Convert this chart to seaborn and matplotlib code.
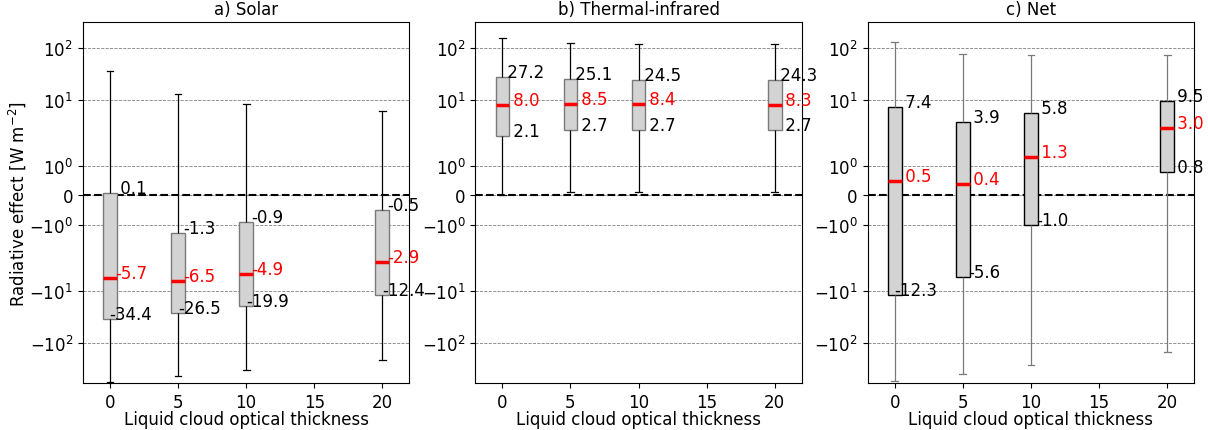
import numpy as np
import pandas as pd
import matplotlib
matplotlib.use("Agg")
import matplotlib.pyplot as plt
import matplotlib.ticker as mticker
import seaborn as sns

# ---- data ----
tau = [0, 5, 10, 20]

solar_min = [-550, -430, -321, -207]
solar_q1 = [-34.4, -26.5, -19.9, -12.4]
solar_med = [-5.7, -6.5, -4.9, -2.9]
solar_q3 = [0.1, -1.3, -0.9, -0.5]
solar_max = [36.1, 13.2, 8.5, 6.2]

tir_min = [0.02, 0.13, 0.13, 0.13]
tir_q1 = [2.1, 2.7, 2.7, 2.7]
tir_med = [8.0, 8.5, 8.4, 8.3]
tir_q3 = [27.2, 25.1, 24.5, 24.3]
tir_max = [153, 123, 117.6, 117.6]

net_min = [-526, -388, -266, -148]
net_q1 = [-12.3, -5.6, -1.0, 0.8]
net_med = [0.5, 0.4, 1.3, 3.0]
net_q3 = [7.4, 3.9, 5.8, 9.5]
net_max = [128, 76, 72.6, 72.6]

titles = ["a) Solar", "b) Thermal-infrared", "c) Net"]
xlabel = "Liquid cloud optical thickness"
ylabel = "Radiative effect [W m$^{-2}$]"
yticks = [-100, -10, -1, 0, 1, 10, 100]
xticks = [0, 5, 10, 15, 20]

panels = [
    (solar_min, solar_q1, solar_med, solar_q3, solar_max),
    (tir_min, tir_q1, tir_med, tir_q3, tir_max),
    (net_min, net_q1, net_med, net_q3, net_max),
]
box_edge = ["#7a7a7a", "#7a7a7a", "black"]
whisk_col = ["black", "black", "#7a7a7a"]

plt.rcParams["font.size"] = 12
plt.rcParams["font.family"] = ["DejaVu Sans"]

fig = plt.figure(figsize=(12.08, 4.31), dpi=100)
fig.subplots_adjust(left=0.0685, right=0.9887, bottom=0.1084, top=0.946, wspace=0.201)
axes = [fig.add_subplot(1, 3, i + 1) for i in range(3)]

for i, ax in enumerate(axes):
    mn, q1, med, q3, mx = panels[i]
    rows = []
    for k, t in enumerate(tau):
        for v in (mn[k], q1[k], med[k], q3[k], mx[k]):
            rows.append({"tau": t, "value": v})
    df = pd.DataFrame(rows)
    ax.set_axisbelow(True)
    sns.boxplot(
        data=df, x="tau", y="value", native_scale=True, whis=(0, 100),
        width=0.2, color="#d3d3d3", saturation=1, ax=ax, showfliers=False,
        boxprops=dict(facecolor="#d3d3d3", edgecolor=box_edge[i], linewidth=1.0, zorder=3),
        whiskerprops=dict(color=whisk_col[i], linewidth=0.9, zorder=3),
        capprops=dict(color=whisk_col[i], linewidth=0.9, zorder=3),
        medianprops=dict(color="red", linewidth=2.5, zorder=4),
    )
    ax.axhline(0, color="black", linestyle="--", linewidth=1.5, zorder=2)
    ax.set_yscale("symlog", linthresh=2, linscale=1)
    ax.set_ylim(-580, 305)
    ax.set_yticks(yticks)
    ax.yaxis.set_minor_locator(mticker.NullLocator())
    ax.set_xlim(-2, 22)
    ax.set_xticks(xticks)
    ax.set_xticklabels([str(x) for x in xticks])
    ax.grid(axis="y", linestyle="--", color="gray", linewidth=0.6)
    ax.grid(axis="x", visible=False)
    ax.set_title(titles[i], fontsize=12)
    ax.set_xlabel(xlabel, fontsize=12, labelpad=-1)
    ax.set_ylabel(ylabel if i == 0 else "", fontsize=12, labelpad=1)
    for k, t in enumerate(tau):
        for v, c in ((q1[k], "black"), (med[k], "red"), (q3[k], "black")):
            ax.text(t + 1.55, v, f"{v: .1f}", ha="center", va="baseline",
                    color=c, fontsize=12, zorder=6)

fig.savefig("out.png", dpi=100)
